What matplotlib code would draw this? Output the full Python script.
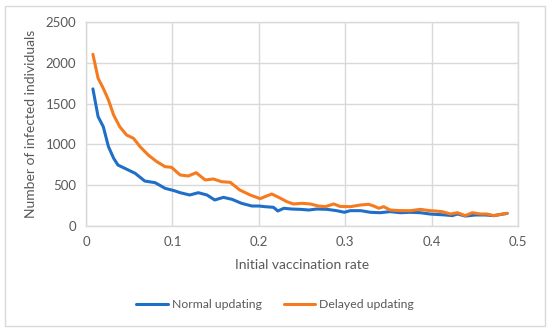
import matplotlib
matplotlib.use("Agg")
import matplotlib.pyplot as plt
from matplotlib.patches import Rectangle

normal_x = [0.008, 0.014, 0.020, 0.026, 0.032, 0.037, 0.049, 0.057, 0.068, 0.080,
            0.0915, 0.102, 0.109, 0.120, 0.130, 0.140, 0.149, 0.159, 0.169, 0.180,
            0.192, 0.200, 0.207, 0.217, 0.222, 0.229, 0.238, 0.248, 0.258, 0.267,
            0.279, 0.290, 0.299, 0.306, 0.318, 0.329, 0.3405, 0.352, 0.364, 0.3755,
            0.387, 0.398, 0.404, 0.416, 0.424, 0.430, 0.439, 0.451, 0.462, 0.472, 0.4875]
normal_y = [1680, 1340, 1217, 972, 830, 747, 686, 645, 551, 531,
            462, 433, 408, 380, 408, 380, 319, 351, 327, 278,
            245, 245, 237, 229, 184, 217, 208, 204, 196, 208,
            204, 188, 168, 188, 188, 168, 163, 176, 163, 168,
            163, 147, 143, 135, 127, 147, 122, 135, 135, 127, 155]

delayed_x = [0.008, 0.014, 0.020, 0.026, 0.032, 0.039, 0.047, 0.055, 0.0626, 0.072,
             0.082, 0.0915, 0.099, 0.109, 0.1185, 0.1275, 0.138, 0.1475, 0.157, 0.167,
             0.178, 0.190, 0.2016, 0.207, 0.215, 0.223, 0.2325, 0.240, 0.250, 0.2596,
             0.269, 0.277, 0.2866, 0.294, 0.306, 0.3175, 0.327, 0.333, 0.339, 0.3445,
             0.352, 0.364, 0.3755, 0.387, 0.398, 0.404, 0.412, 0.422, 0.430, 0.439,
             0.447, 0.4566, 0.464, 0.472, 0.480, 0.4875]
delayed_y = [2104, 1810, 1687, 1544, 1360, 1217, 1115, 1074, 972, 870,
             788, 727, 719, 625, 613, 653, 564, 576, 543, 535,
             441, 380, 335, 359, 392, 351, 298, 270, 278, 270,
             245, 237, 270, 240, 237, 257, 266, 245, 217, 237,
             196, 188, 188, 204, 188, 184, 176, 147, 163, 127,
             163, 147, 147, 127, 143, 155]

x_ticks = [0, 0.1, 0.2, 0.3, 0.4, 0.5]
x_tick_labels = ["0", "0.1", "0.2", "0.3", "0.4", "0.5"]
y_ticks = [0, 500, 1000, 1500, 2000, 2500]

plt.rcParams['font.family'] = ['Lato', 'DejaVu Sans']
text_color = '#595959'
grid_color = '#d9d9d9'

fig = plt.figure(figsize=(5.5, 3.33), dpi=100)
fig.patches.append(Rectangle((5/550, 1 - 326/333), 540/550, 320/333,
                             transform=fig.transFigure, fill=False,
                             edgecolor='#d9d9d9', linewidth=1))
ax = fig.add_axes([86/550, 1 - 226/333, 432/550, 204/333])

ax.plot(normal_x, normal_y, color='#1f6fc9', linewidth=2.2,
        solid_joinstyle='round', solid_capstyle='round', label='Normal updating')
ax.plot(delayed_x, delayed_y, color='#f67a1e', linewidth=2.2,
        solid_joinstyle='round', solid_capstyle='round', label='Delayed updating')

ax.set_xlim(0, 0.5)
ax.set_ylim(0, 2500)
ax.set_xticks(x_ticks)
ax.set_xticklabels(x_tick_labels)
ax.set_yticks(y_ticks)
ax.grid(True, color=grid_color, linewidth=1)
ax.set_axisbelow(True)
for s in ax.spines.values():
    s.set_color(grid_color)
    s.set_linewidth(1)
ax.tick_params(length=0, labelsize=9.5, colors=text_color, pad=7)
ax.set_xlabel('Initial vaccination rate', fontsize=10, color=text_color, labelpad=8)
ax.set_ylabel('Number of infected individuals', fontsize=10, color=text_color, labelpad=6)

fig.legend(loc='center', bbox_to_anchor=(0.5, 1 - 305/333), ncol=2, frameon=False,
           fontsize=8.8, labelcolor=text_color, handlelength=2.6, handletextpad=0.3,
           columnspacing=1.8)

fig.savefig('out.png', dpi=100)
